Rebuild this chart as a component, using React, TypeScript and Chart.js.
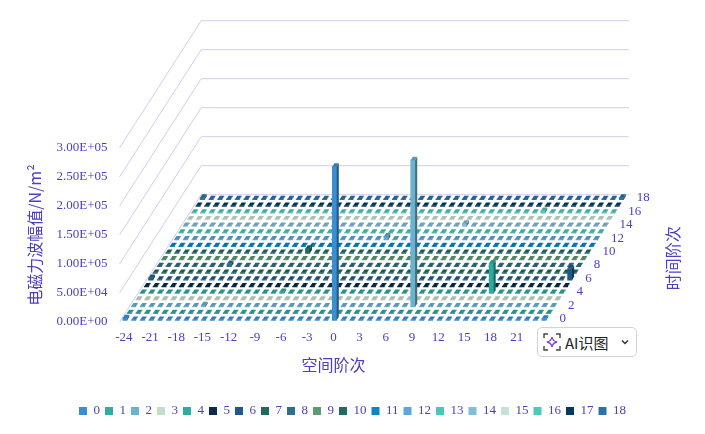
import React, { useEffect, useRef } from "react";
import { Chart, registerables } from "chart.js";

Chart.register(...registerables);

// spatial orders (x), time orders (depth) and amplitude ticks (N/m^2)
const SPATIAL_ORDERS = [
  -24, -23, -22, -21, -20, -19, -18, -17, -16, -15, -14, -13, -12, -11, -10, -9, -8,
  -7, -6, -5, -4, -3, -2, -1, 0, 1, 2, 3, 4, 5, 6, 7, 8, 9, 10, 11, 12, 13, 14, 15, 16,
  17, 18, 19, 20, 21, 22, 23, 24,
];
const TIME_ORDERS = [0, 1, 2, 3, 4, 5, 6, 7, 8, 9, 10, 11, 12, 13, 14, 15, 16, 17, 18];
const SPATIAL_TICKS = [-24, -21, -18, -15, -12, -9, -6, -3, 0, 3, 6, 9, 12, 15, 18, 21, 24];
const TIME_TICKS = [0, 2, 4, 6, 8, 10, 12, 14, 16, 18];
const AMPLITUDE_TICKS = [0, 50000, 100000, 150000, 200000, 250000, 300000];

// the cells that stand out of the floor
const PEAK_SPATIAL = [0, 8, 16, 24, -24, 24, -16, -8, -24, -16, -8, 0, 8, 16, -24, 24];
const PEAK_TIME = [0, 2, 4, 6, 0, 0, 2, 4, 6, 8, 10, 12, 14, 16, 18, 18];
const PEAK_VALUES = [
  265000, 253000, 52000, 20000, 4000, 3000, 3000, 3000, 4000, 5000, 8000, 6000, 5000,
  4000, 3500, 3500,
];
// every other cell reads as flat, near zero
const FLOOR_VALUE = 1000;

const SERIES_COLORS = [
  "#3a8fd2", "#2eada0", "#69b3cf", "#c3dccb", "#2faa9e", "#0b2b46", "#1f5a86",
  "#1d6a5e", "#2e6f8c", "#5c9a76", "#206b61", "#0a86c6", "#5ba7dc", "#48c9b9",
  "#82bfd6", "#c9e1d5", "#4ecabc", "#003b5e", "#2a73a9",
];

const TEXT = "#4b3fbf";
const WALL = "#cfcdf1";

// oblique projection: pixels per unit
const S_PX = 8.73;
const T_DX = 4.3;
const T_DY = 6.7;
const Z_PX = 58 / 100000;
const KX = T_DX / S_PX;
const KY = T_DY / Z_PX;
const BAR = 0.5; // bar footprint, in orders
const HALF = 0.5; // half a cell

const ORIGIN_X = 119.5;
const ORIGIN_Y = 322;
const PLOT_W = 705;
const PLOT_H = 399.5;

const S0 = SPATIAL_ORDERS[0] - HALF;
const S1 = SPATIAL_ORDERS[SPATIAL_ORDERS.length - 1] + HALF;
const T0 = TIME_ORDERS[0] - HALF;
const T1 = TIME_ORDERS[TIME_ORDERS.length - 1] + HALF;

const XO = S0 + T0 * KX;
const YO = T0 * KY;

const valueAt = (s: number, t: number) => {
  for (let i = 0; i < PEAK_VALUES.length; i++) {
    if (PEAK_SPATIAL[i] === s && PEAK_TIME[i] === t) return PEAK_VALUES[i];
  }
  return FLOOR_VALUE;
};

const shade = (hex: string, k: number) => {
  const n = parseInt(hex.slice(1), 16);
  const r = Math.round(((n >> 16) & 255) * k);
  const g = Math.round(((n >> 8) & 255) * k);
  const b = Math.round((n & 255) * k);
  return `rgb(${Math.min(r, 255)},${Math.min(g, 255)},${Math.min(b, 255)})`;
};

const sci = (v: number) => {
  if (v === 0) return "0.00E+00";
  const e = Math.floor(Math.log10(v));
  const m = v / Math.pow(10, e);
  return `${m.toFixed(2)}E${e < 0 ? "-" : "+"}${String(Math.abs(e)).padStart(2, "0")}`;
};

const box3d = {
  id: "box3d",
  beforeDatasetsDraw(chart: any) {
    const { ctx, scales } = chart;
    const p = (s: number, t: number, z: number) => [
      scales.x.getPixelForValue(s + t * KX),
      scales.y.getPixelForValue(z + t * KY),
    ];
    ctx.save();
    ctx.strokeStyle = WALL;
    ctx.lineWidth = 1;
    AMPLITUDE_TICKS.forEach((z) => {
      const a = p(S0, T0, z);
      const b = p(S0, T1, z);
      const c = p(S1, T1, z);
      ctx.beginPath();
      ctx.moveTo(a[0], a[1]);
      ctx.lineTo(b[0], b[1]);
      ctx.lineTo(c[0], c[1]);
      ctx.stroke();
    });
    ctx.restore();
  },
  afterDatasetDraw(chart: any, args: any) {
    const { ctx, scales } = chart;
    const meta = args.meta;
    const color = SERIES_COLORS[args.index];
    const dx = scales.x.getPixelForValue(BAR * KX) - scales.x.getPixelForValue(0);
    const dy = scales.y.getPixelForValue(0) - scales.y.getPixelForValue(BAR * KY);
    ctx.save();
    meta.data.forEach((el: any) => {
      const top = Math.min(el.y, el.base);
      const bottom = Math.max(el.y, el.base);
      const l = el.x - el.width / 2;
      const r = el.x + el.width / 2;
      ctx.fillStyle = shade(color, 0.62);
      ctx.beginPath();
      ctx.moveTo(r, top);
      ctx.lineTo(r + dx, top - dy);
      ctx.lineTo(r + dx, bottom - dy);
      ctx.lineTo(r, bottom);
      ctx.closePath();
      ctx.fill();
      ctx.fillStyle = shade(color, 0.85);
      ctx.beginPath();
      ctx.moveTo(l, top);
      ctx.lineTo(r, top);
      ctx.lineTo(r + dx, top - dy);
      ctx.lineTo(l + dx, top - dy);
      ctx.closePath();
      ctx.fill();
    });
    ctx.restore();
  },
  afterDraw(chart: any) {
    const { ctx, scales } = chart;
    const p = (s: number, t: number, z: number) => [
      scales.x.getPixelForValue(s + t * KX),
      scales.y.getPixelForValue(z + t * KY),
    ];
    ctx.save();
    ctx.fillStyle = TEXT;
    ctx.font = '13px "Liberation Serif"';
    ctx.textBaseline = "middle";

    ctx.textAlign = "right";
    AMPLITUDE_TICKS.forEach((z) => {
      const [x, y] = p(S0, T0, z);
      ctx.fillText(sci(z), x - 12, y);
    });

    ctx.textAlign = "center";
    SPATIAL_TICKS.forEach((s) => {
      const [x, y] = p(s, T0, 0);
      ctx.fillText(String(s), x, y + 16);
    });

    ctx.textAlign = "left";
    TIME_TICKS.forEach((t) => {
      const [x, y] = p(S1, t, 0);
      ctx.fillText(String(t), x + 10, y);
    });

    ctx.font = '16px "Noto Sans CJK SC"';
    ctx.textAlign = "center";
    const sx = p(0, T0, 0);
    ctx.fillText("空间阶次", sx[0], sx[1] + 43);

    const tx = p(S1, (TIME_ORDERS[0] + TIME_ORDERS[TIME_ORDERS.length - 1]) / 2, 0);
    ctx.save();
    ctx.translate(tx[0] + 85, tx[1]);
    ctx.rotate(-Math.PI / 2);
    ctx.fillText("时间阶次", 0, 0);
    ctx.restore();

    const zx = p(S0, T0, 150000);
    ctx.save();
    ctx.translate(zx[0] - 84.5, zx[1]);
    ctx.rotate(-Math.PI / 2);
    ctx.fillText("电磁力波幅值/N/m²", 0, 0);
    ctx.restore();

    ctx.restore();
  },
};

const Amplitude3D = () => {
  const canvasRef = useRef<HTMLCanvasElement>(null);
  const chartRef = useRef<any>(null);

  useEffect(() => {
    const ctx = canvasRef.current!.getContext("2d")!;
    if (chartRef.current) chartRef.current.destroy();

    const datasets = TIME_ORDERS.map((t, i) => {
      const tf = t - BAR / 2;
      return {
        label: String(t),
        data: SPATIAL_ORDERS.map((s) => ({
          x: s + tf * KX,
          y: [tf * KY, tf * KY + valueAt(s, t)],
        })),
        backgroundColor: SERIES_COLORS[i],
        borderWidth: 0,
        barThickness: BAR * S_PX,
        grouped: false,
      };
    });

    chartRef.current = new Chart(ctx, {
      type: "bar",
      data: { datasets } as any,
      plugins: [box3d],
      options: {
        animation: false,
        responsive: true,
        maintainAspectRatio: false,
        layout: { padding: { top: 0, left: 0, right: 0, bottom: 6.5 } },
        scales: {
          x: {
            type: "linear",
            display: false,
            offset: false,
            min: XO - ORIGIN_X / S_PX,
            max: XO + (PLOT_W - ORIGIN_X) / S_PX,
          },
          y: {
            type: "linear",
            display: false,
            min: YO - (PLOT_H - ORIGIN_Y) / Z_PX,
            max: YO + ORIGIN_Y / Z_PX,
          },
        },
        plugins: {
          tooltip: { enabled: false },
          legend: {
            position: "bottom",
            labels: {
              boxWidth: 8,
              boxHeight: 8,
              padding: 5,
              color: TEXT,
              font: { family: "Liberation Serif", size: 13 },
            },
          },
        },
      } as any,
    });

    return () => {
      if (chartRef.current) {
        chartRef.current.destroy();
        chartRef.current = null;
      }
    };
  }, []);

  return <canvas ref={canvasRef} />;
};

const AiButton = () => (
  <div
    style={{
      position: "absolute",
      left: 537,
      top: 327,
      width: 100,
      height: 30,
      boxSizing: "border-box",
      border: "1px solid #d3d3d3",
      borderRadius: 5,
      background: "#fff",
      display: "flex",
      alignItems: "center",
      paddingLeft: 5,
      fontFamily: '"Noto Sans CJK SC", sans-serif',
      fontSize: 15,
      color: "#222",
    }}
  >
    <svg width="18" height="18" viewBox="0 0 18 18" style={{ marginRight: 4 }}>
      <path
        d="M1 5V1H5M13 1H17V5M17 13V17H13M5 17H1V13"
        fill="none"
        stroke="#444"
        strokeWidth="1.4"
      />
      <path
        d="M9 4Q9.8 8.2 14 9Q9.8 9.8 9 14Q8.2 9.8 4 9Q8.2 8.2 9 4Z"
        fill="none"
        stroke="#7b3fe4"
        strokeWidth="1.3"
      />
    </svg>
    <span>AI识图</span>
    <svg width="10" height="10" viewBox="0 0 10 10" style={{ marginLeft: 11 }}>
      <path d="M2 3.5L5 6.5L8 3.5" fill="none" stroke="#333" strokeWidth="1.5" />
    </svg>
  </div>
);

export default function App() {
  return (
    <div style={{ position: "absolute", left: 0, top: 0, width: 705, height: 434 }}>
      <Amplitude3D />
      <AiButton />
    </div>
  );
}
